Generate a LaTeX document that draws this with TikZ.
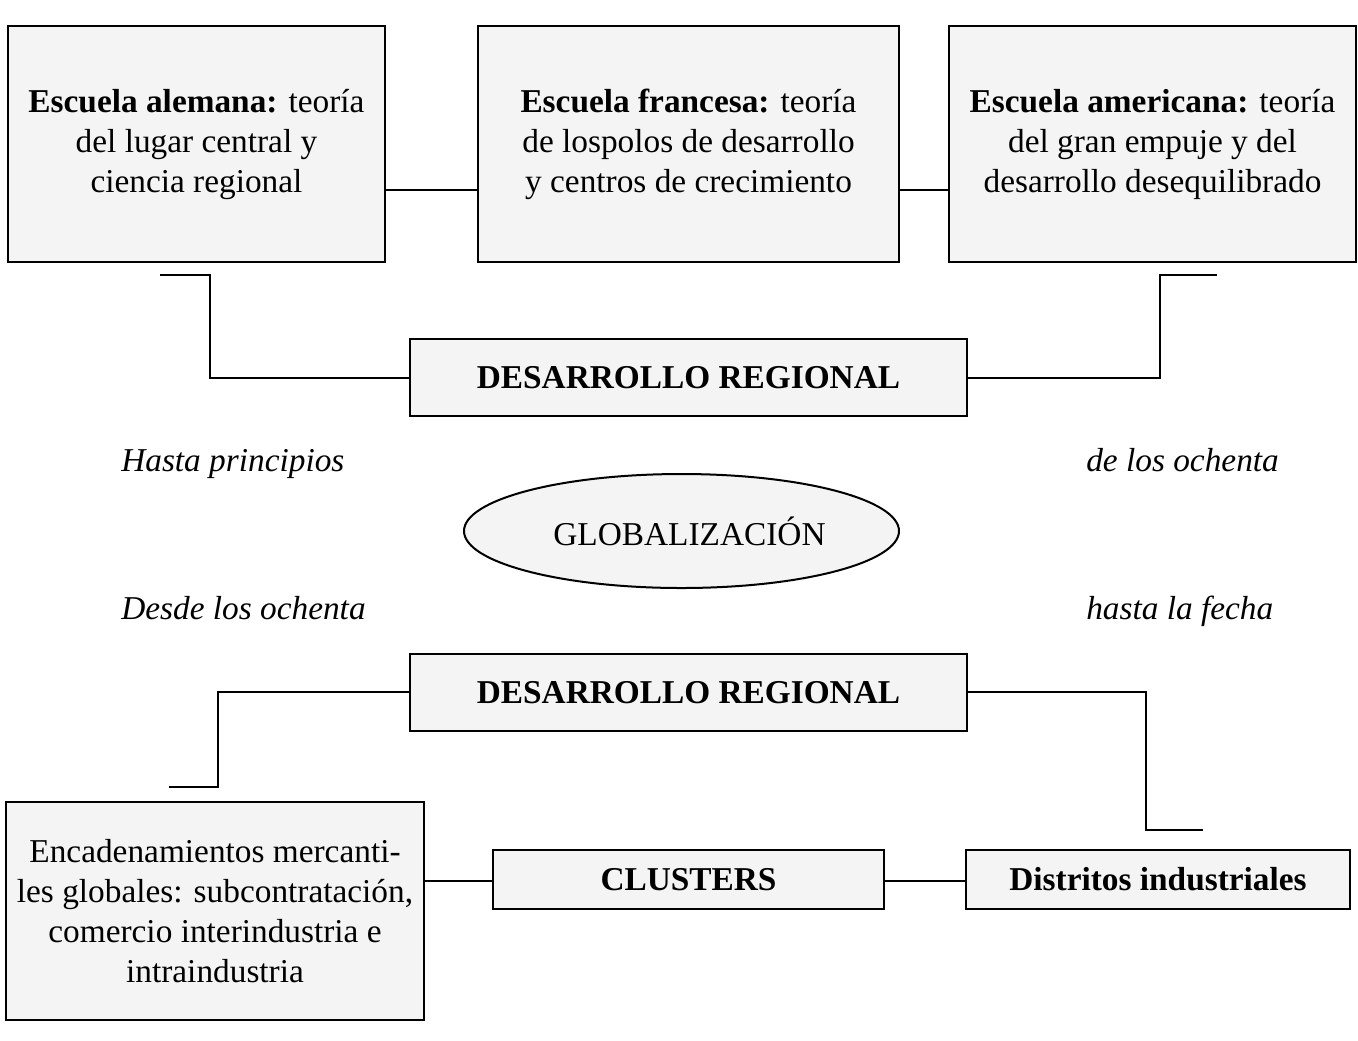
\documentclass[tikz,border=0pt]{standalone}
\usepackage{fontspec}
\setmainfont{Liberation Serif}
\usetikzlibrary{shapes.geometric}
\definecolor{boxfill}{HTML}{F4F4F4}
\begin{document}
\begin{tikzpicture}[x=0.75pt,y=-0.75pt,
  every node/.style={font=\fontsize{25}{30}\selectfont},
  box/.style={draw,line width=1.5pt,fill=boxfill,inner sep=0pt,align=center},
  conn/.style={line width=1.5pt},
  lbl/.style={font=\fontsize{25}{30}\selectfont\itshape,anchor=base west,inner sep=0pt}]
\useasboundingbox (0,0) rectangle (1358,1040);
% top boxes
\node[box,minimum width=377*0.75pt,minimum height=236*0.75pt] (ale) at (196.5,144)
  {\textbf{Escuela alemana:} teoría\\del lugar central y\\ciencia regional};
\node[box,minimum width=421*0.75pt,minimum height=236*0.75pt] (fra) at (688.5,144)
  {\textbf{Escuela francesa:} teoría\\de lospolos de desarrollo\\y centros de crecimiento};
\node[box,minimum width=407*0.75pt,minimum height=236*0.75pt] (ame) at (1152.5,144)
  {\textbf{Escuela americana:} teoría\\del gran empuje y del\\desarrollo desequilibrado};
\draw[conn] (ale.east |- 0,190) -- (fra.west |- 0,190);
\draw[conn] (fra.east |- 0,190) -- (ame.west |- 0,190);
% desarrollo 1
\node[box,minimum width=557*0.75pt,minimum height=77*0.75pt] (dr1) at (688.5,377.5)
  {\textbf{DESARROLLO REGIONAL}};
\coordinate (l1) at (160,275);
\coordinate (r1) at (1217,275);
\draw[conn] (l1) -- (210,275) -- (210,378) -- (dr1.west |- 0,378);
\draw[conn] (dr1.east |- 0,378) -- (1160,378) -- (1160,275) -- (r1);
% labels
\node[lbl] (t1) at (121,471) {Hasta principios};
\node[lbl] (t2) at (1086,471) {de los ochenta};
\node[lbl] (t3) at (121,619) {Desde los ochenta};
\node[lbl] (t4) at (1086,619) {hasta la fecha};
% ellipse
\node[draw,ellipse,line width=1.5pt,fill=boxfill,minimum width=435*0.75pt,minimum height=114*0.75pt,inner sep=0pt] (glo) at (681.5,531)
  {\hspace*{12pt}GLOBALIZACIÓN};
% desarrollo 2
\node[box,minimum width=557*0.75pt,minimum height=77*0.75pt] (dr2) at (688.5,692.5)
  {\textbf{DESARROLLO REGIONAL}};
\coordinate (l2) at (169,787);
\coordinate (r2) at (1203,830);
\draw[conn] (dr2.west |- 0,692) -- (218,692) -- (218,787) -- (l2);
\draw[conn] (dr2.east |- 0,692) -- (1146,692) -- (1146,830) -- (r2);
% bottom boxes
\node[box,minimum width=418*0.75pt,minimum height=218*0.75pt] (enc) at (215,911)
  {Encadenamientos mercanti-\\les globales: subcontratación,\\comercio interindustria e\\intraindustria};
\node[box,minimum width=391*0.75pt,minimum height=59*0.75pt] (clu) at (688.5,879.5)
  {\textbf{CLUSTERS}};
\node[box,minimum width=384*0.75pt,minimum height=59*0.75pt] (dis) at (1158,879.5)
  {\textbf{Distritos industriales}};
\draw[conn] (enc.east |- 0,881) -- (clu.west |- 0,881);
\draw[conn] (clu.east |- 0,881) -- (dis.west |- 0,881);
\end{tikzpicture}
\end{document}
